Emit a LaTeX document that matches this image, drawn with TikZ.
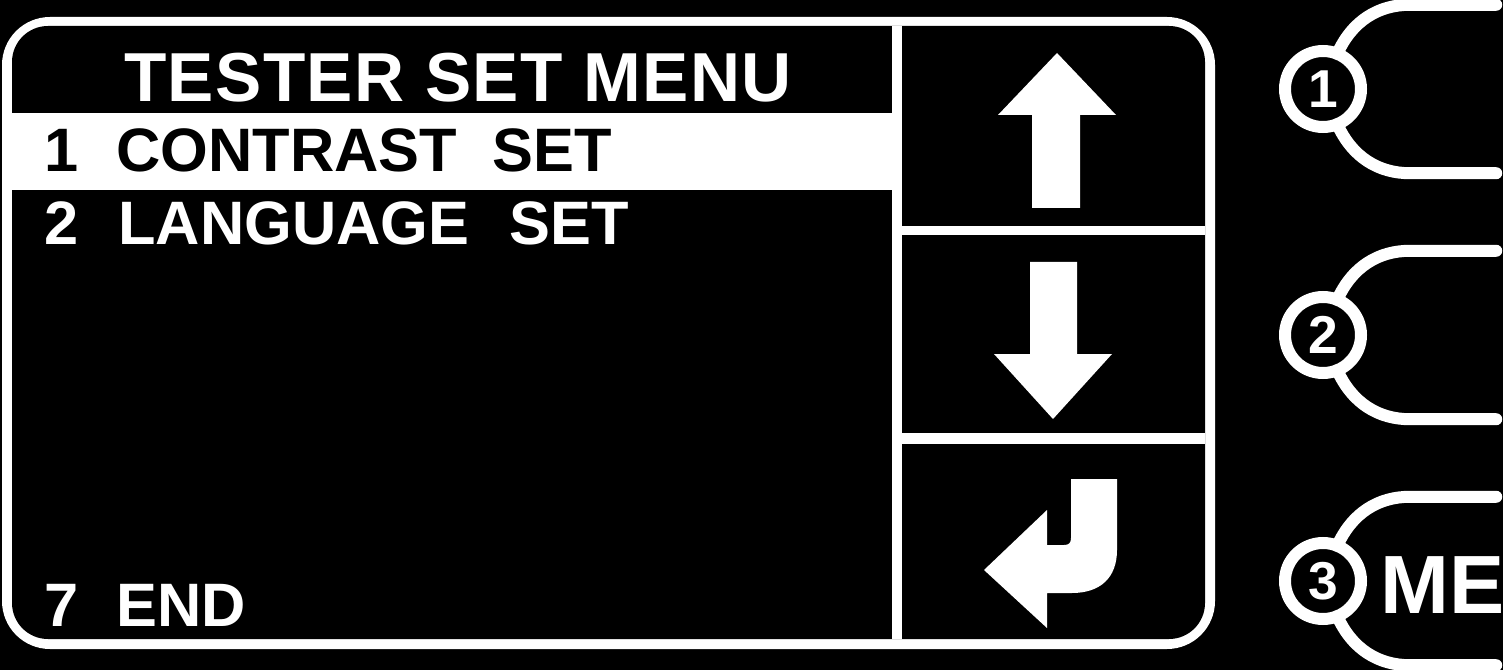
\documentclass[tikz,border=0pt]{standalone}
\usepackage{fontspec}
\setmainfont{Liberation Sans}
\newfontfamily\titlefont[LetterSpace=2]{Liberation Sans}

\begin{document}
\begin{tikzpicture}[x=0.75pt,y=0.75pt,yscale=-1,xscale=1,
    lcdtitle/.style={anchor=base west,inner sep=0pt,text=white,font=\titlefont\fontsize{52}{56}\selectfont\bfseries},
    lcdnum/.style={anchor=base,inner sep=0pt,font=\fontsize{46}{50}\selectfont\bfseries},
    lcdtext/.style={anchor=base west,inner sep=0pt,font=\fontsize{46}{50}\selectfont\bfseries},
    keyring/.style={circle,draw=white,line width=9,inner sep=0pt,outer sep=0pt,minimum size=57pt,text=white,font=\fontsize{40}{40}\selectfont\bfseries},
    keyline/.style={draw=white,line width=9,line cap=round}]
        \fill [black] (0,0) rectangle (1503,670);
        \useasboundingbox (0,0) rectangle (1503,670);

        %Shape: Rounded Rect (display frame)
        \fill [white, rounded corners=36] (2,17) rectangle (1215,649);
        \fill [black, rounded corners=27] (12,26) rectangle (1205,639);
        %Shape: Rect (highlight bar)
        \fill [white] (12,113) rectangle (892,190);
        %Shape: Lines (key column)
        \fill [white] (892,26) rectangle (902,639);
        \fill [white] (902,226) rectangle (1205,235);
        \fill [white] (902,433) rectangle (1205,444);

        %Shape: Polygon (up arrow)
        \fill [white] (1057,53) -- (1116,115) -- (1080,115) -- (1080,208) -- (1032,208) -- (1032,115) -- (998,115) -- cycle ;
        %Shape: Polygon (down arrow)
        \fill [white] (1053,419) -- (1112,354) -- (1077,354) -- (1077,262) -- (1030,262) -- (1030,354) -- (994,354) -- cycle ;
        %Shape: Polygon Curved (enter arrow)
        \fill [white] (984,570) -- (1047,510) -- (1047,545) -- (1064,545) .. controls (1069,545) and (1071,543) .. (1071,538) -- (1071,479) -- (1117,479) -- (1117,550) .. controls (1117,578) and (1100,593) .. (1072,593) -- (1047,593) -- (1047,628) -- cycle ;

        % Text Node
        \node [lcdtitle] (title) at (124,102) {TESTER SET MENU};
        % Text Node
        \node [lcdnum,text=black] (num1) at (62,172) {1};
        \node [lcdtext,text=black] (item1) at (116,172) {CONTRAST\hspace{27pt}SET};
        % Text Node
        \node [lcdnum,text=white] (num2) at (62,245) {2};
        \node [lcdtext,text=white] (item2) at (118,245) {LANGUAGE\hspace{30pt}SET};
        % Text Node
        \node [lcdnum,text=white] (num7) at (62,626) {7};
        \node [lcdtext,text=white] (item7) at (116,626) {END};

        %Shape: Keys
        \node [keyring] (key1) at (1323,89) {1};
        \draw [keyline] (key1.68) .. controls +(15,-33) and +(-32,0) .. ++(73,-49) -- ++(86,0);
        \draw [keyline] (key1.-68) .. controls +(15,33) and +(-32,0) .. ++(73,49) -- ++(86,0);
        \node [keyring] (key2) at (1323,335) {2};
        \draw [keyline] (key2.68) .. controls +(15,-33) and +(-32,0) .. ++(73,-49) -- ++(86,0);
        \draw [keyline] (key2.-68) .. controls +(15,33) and +(-32,0) .. ++(73,49) -- ++(86,0);
        \node [keyring] (key3) at (1323,581) {3};
        \draw [keyline] (key3.68) .. controls +(15,-33) and +(-32,0) .. ++(73,-49) -- ++(86,0);
        \draw [keyline] (key3.-68) .. controls +(15,33) and +(-32,0) .. ++(73,49) -- ++(86,0);
        % Text Node
        \node [anchor=base west,inner sep=0pt,text=white,font=\fontsize{62}{66}\selectfont\bfseries] (menu) at (1380,613) {ME};

\end{tikzpicture}
\end{document}
